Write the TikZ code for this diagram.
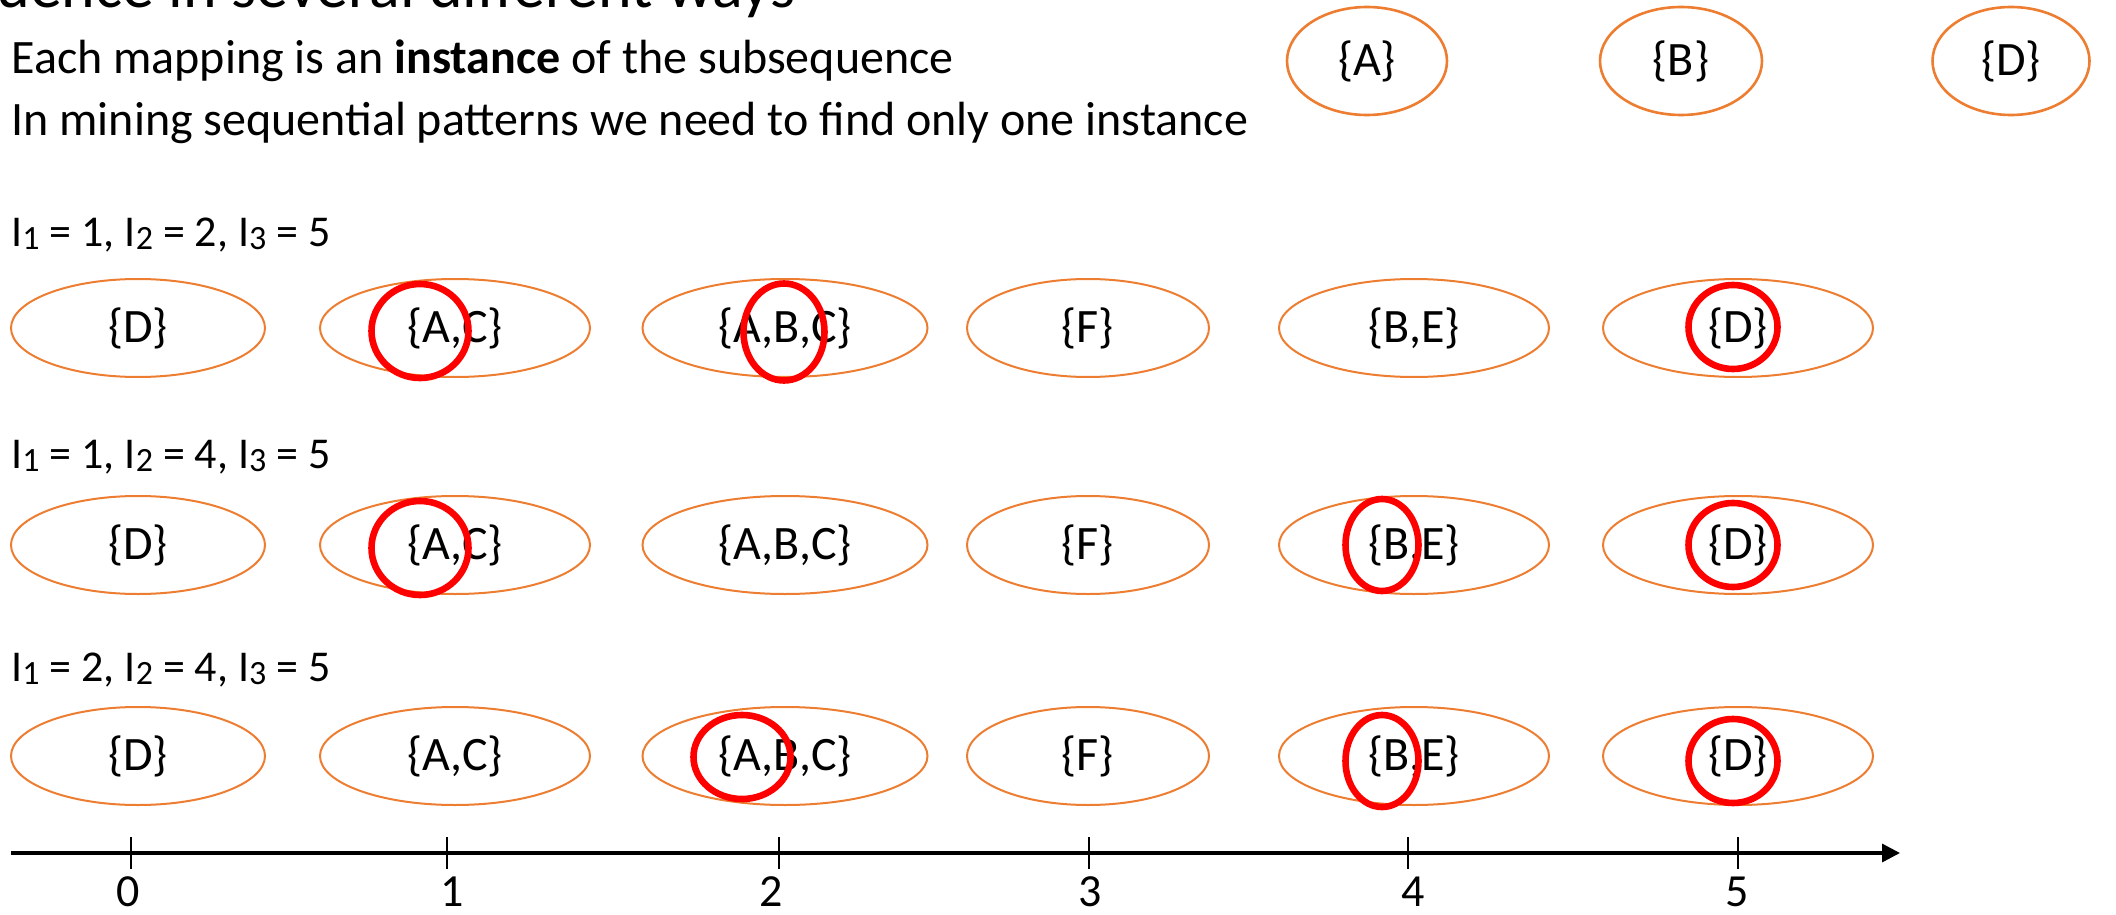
\documentclass[tikz,border=0pt]{standalone}
\usepackage{fontspec}
\setmainfont{Carlito}
\usetikzlibrary{shapes.geometric,arrows.meta}
\definecolor{orgc}{HTML}{ED7D31}
\newcommand{\lowidx}[1]{\raisebox{-0.15ex}{\fontsize{17}{20}\selectfont #1}}
\begin{document}
\begin{tikzpicture}[x=0.5pt,y=-0.5pt,
  setbox/.style={ellipse,draw=orgc,line width=1pt,inner sep=0pt,minimum height=49pt,font=\fontsize{24}{28}\selectfont},
  topbox/.style={ellipse,draw=orgc,line width=1.3pt,inner sep=0pt,minimum width=80pt,minimum height=54pt,font=\fontsize{24}{28}\selectfont},
  hilite/.style={ellipse,draw=red,line width=3.3pt,inner sep=0pt},
  bodytext/.style={anchor=base west,inner sep=0pt,font=\fontsize{24}{28}\selectfont},
  rowlabel/.style={anchor=base west,inner sep=0pt,font=\fontsize{22}{26}\selectfont},
  ticklabel/.style={anchor=base,inner sep=0pt,font=\fontsize{23}{27}\selectfont},
  tickline/.style={line width=0.6pt}]
\useasboundingbox (0,0) rectangle (2116,915);

% header texts (first line is cut off at the top edge, as in the reference)
\begin{scope}
\clip (0,0) rectangle (2116,40);
\node[anchor=base west,inner sep=0pt,font=\fontsize{32}{38}\selectfont] (title) at (-4,8) {uence in several different ways};
\end{scope}
\node[bodytext] (l1) at (11,74) {Each mapping is an \textbf{instance} of the subsequence};
\node[bodytext] (l2) at (11,135) {In mining sequential patterns we need to find only one instance};

% subsequence
\node[topbox] (sa) at (1367,61) {\{A\}};
\node[topbox,minimum width=81pt] (sb) at (1681,61) {\{B\}};
\node[topbox,minimum width=78.5pt] (sd) at (2011,61) {\{D\}};

% row labels
\node[rowlabel] (r1) at (11,246) {I\lowidx{1} = 1, I\lowidx{2} = 2, I\lowidx{3} = 5};
\node[rowlabel] (r2) at (11,468) {I\lowidx{1} = 1, I\lowidx{2} = 4, I\lowidx{3} = 5};
\node[rowlabel] (r3) at (11,681) {I\lowidx{1} = 2, I\lowidx{2} = 4, I\lowidx{3} = 5};

% sequences
\foreach \r/\y in {1/328,2/545,3/756}{
  \node[setbox,minimum width=127pt] (e\r0) at (138,\y) {\{D\}};
  \node[setbox,minimum width=135pt] (e\r1) at (455,\y) {\{A,C\}};
  \node[setbox,minimum width=142.5pt] (e\r2) at (785,\y) {\{A,B,C\}};
  \node[setbox,minimum width=121pt] (e\r3) at (1088,\y) {\{F\}};
  \node[setbox,minimum width=135pt] (e\r4) at (1414,\y) {\{B,E\}};
  \node[setbox,minimum width=135pt] (e\r5) at (1738,\y) {\{D\}};
}

% highlights
\node[hilite,minimum width=48.5pt,minimum height=47pt] (h11) at (420,331) {};
\node[hilite,minimum width=40.5pt,minimum height=48.5pt] (h12) at (784,332) {};
\node[hilite,minimum width=44.5pt,minimum height=42pt] (h15) at (1733,327) {};
\node[hilite,minimum width=48.5pt,minimum height=47pt] (h21) at (420,548) {};
\node[hilite,minimum width=36.5pt,minimum height=46pt] (h24) at (1382,545) {};
\node[hilite,minimum width=44.5pt,minimum height=42pt] (h25) at (1733,545) {};
\node[hilite,minimum width=48.5pt,minimum height=42pt] (h32) at (742,757) {};
\node[hilite,minimum width=36.5pt,minimum height=46pt] (h34) at (1382,761) {};
\node[hilite,minimum width=44.5pt,minimum height=42pt] (h35) at (1733,761) {};

% axis
\coordinate (ax0) at (11,853);
\coordinate (ax1) at (1900,853);
\draw[line width=1.7pt,-{Triangle[length=9pt,width=9pt]}] (ax0) -- (ax1);
\foreach \i/\x in {0/131,1/447,2/779,3/1089,4/1408,5/1738}{
  \coordinate (ta\i) at (\x,837);
  \coordinate (tb\i) at (\x,869);
  \draw[tickline] (ta\i) -- (tb\i);
}
\node[ticklabel] (n0) at (128,906) {0};
\node[ticklabel] (n1) at (452,906) {1};
\node[ticklabel] (n2) at (771,906) {2};
\node[ticklabel] (n3) at (1090,906) {3};
\node[ticklabel] (n4) at (1413,906) {4};
\node[ticklabel] (n5) at (1737,906) {5};
\end{tikzpicture}
\end{document}
